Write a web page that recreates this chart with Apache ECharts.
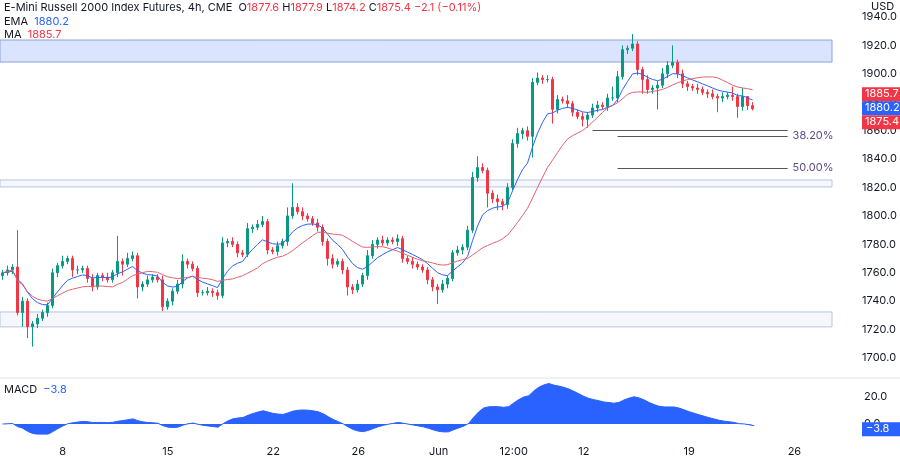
<!DOCTYPE html>
<html><head><meta charset="utf-8">
<script src="https://cdn.jsdelivr.net/npm/echarts@6/dist/echarts.min.js"></script>
<style>html,body{margin:0;padding:0;background:#fff}#c{width:900px;height:459px}</style>
</head><body><div id="c"></div>
<script>
const closes = [
1760,1762,1764,1732,1740,1722,1724,1728,1732,1737,
1760,1765,1768,1770,1762,1762,1763,1756,1750,1758,
1757,1755,1760,1768,1766,1770,1772,1750,1752,1755,
1757,1755,1736,1740,1747,1752,1768,1766,1763,1746,
1746,1747,1746,1744,1781,1782,1780,1774,1773,1791,
1792,1794,1796,1776,1775,1779,1782,1800,1806,1803,
1800,1798,1795,1792,1782,1770,1766,1768,1762,1750,
1748,1752,1758,1772,1780,1783,1781,1783,1782,1784,
1770,1768,1766,1764,1762,1755,1750,1748,1752,1756,
1774,1776,1778,1790,1827,1834,1832,1816,1812,1810,
1808,1820,1851,1858,1860,1856,1894,1897,1896,1896,
1875,1882,1881,1879,1873,1870,1868,1871,1876,1878,
1877,1883,1883,1898,1917,1918,1921,1903,1896,1889,
1890,1892,1900,1906,1908,1900,1893,1891,1890,1889,
1887,1886,1884,1883,1884,1885,1884,1877,1884,1877.6,
1875.4];
const firstOpen = 1758;
const upWick = [
2,3,2,26,3,2,2,3,2,2, 3,2,4,2,2,3,2,2,3,2, 2,3,2,18,2,4,3,2,2,3, 2,2,3,2,2,3,5,2,2,2,
2,3,2,2,4,2,3,2,2,4, 2,3,4,2,2,3,2,6,17,3, 3,2,2,3,2,2,3,2,2,2, 2,3,2,4,3,2,3,2,2,3,
2,2,3,2,2,2,2,2,3,2, 2,3,2,3,4,8,3,2,2,3, 2,3,3,4,2,3,3,4,2,3, 2,3,2,4,2,2,3,2,3,3,
2,3,8,4,3,2,7,2,2,3, 2,3,4,3,12,2,3,2,2,3, 2,2,3,2,3,2,6,2,6,0.3, 2.5];
const dnWick = [
3,2,3,2,10,8,14,3,2,3, 2,3,2,2,5,3,2,3,3,2, 3,2,2,3,8,2,2,8,3,2, 2,2,3,2,3,2,3,3,2,3,
2,2,3,3,2,3,2,3,2,2, 3,2,2,3,2,3,2,3,2,2, 3,2,2,3,3,5,3,2,3,6, 3,2,2,3,2,3,2,2,2,3,
3,2,3,2,2,3,3,10,2,3, 2,2,3,2,2,3,2,10,3,6, 4,3,2,3,4,3,15,2,3,2, 10,3,2,3,3,2,5,6,2,3,
2,3,2,3,2,3,2,4,10,3, 3,15,2,3,2,3,3,3,2,3, 2,3,2,10,3,2,3,8,3,3, 1.2];
const tickIdx = [12,33,54,71,87,102,116,137,158];
const tickLabels = ['8','15','22','26','Jun','12:00','12','19','26'];
const lastMA = 1885.7, lastEMA = 1880.2, lastMACD = -3.8;
const totalSlots = 166;
const zones = [[1908.3,1923.8,'rgba(187,205,255,0.55)','#8ea2d8'],[1820.4,1825.3,'rgba(230,236,250,0.4)','#b8c4e0'],[1721.9,1732.4,'rgba(230,236,250,0.4)','#b8c4e0']];
const fibLines = [[118,157,1860,''],[123,157,1856,'38.20%'],[123,157,1833.7,'50.00%']];

const cats = []; for (let i=0;i<totalSlots;i++) cats.push(String(i));
const ohlc = closes.map((c,i)=>{const o=i?closes[i-1]:firstOpen;return [o,c,Math.min(o,c)-dnWick[i],Math.max(o,c)+upWick[i]];});
function ema(arr,n){const k=2/(n+1);let e=arr[0];return arr.map(v=>(e=v*k+e*(1-k)));}
const ema9 = ema(closes,9).map(v=>+v.toFixed(2));
const ma20 = closes.map((v,i)=>{const s=closes.slice(Math.max(0,i-19),i+1);return +(s.reduce((a,b)=>a+b,0)/s.length).toFixed(2);});
const e12=ema(closes,12), e26=ema(closes,26);
const macd = closes.map((v,i)=>+(e12[i]-e26[i]).toFixed(2));

const chart = echarts.init(document.getElementById('c'));
const font = 'Inter, "Noto Sans", sans-serif';
chart.setOption({
  animation:false,
  textStyle:{fontFamily:font},
  grid:[{left:0,right:68,top:17,bottom:101},{left:0,right:68,top:380,bottom:25}],
  xAxis:[
    {type:'category',data:cats,gridIndex:0,boundaryGap:true,axisLine:{show:false},axisTick:{show:false},axisLabel:{show:false},splitLine:{show:false}},
    {type:'category',data:cats,gridIndex:1,boundaryGap:true,axisLine:{show:false},axisTick:{show:false},splitLine:{show:false},
     axisLabel:{interval:(i)=>tickIdx.includes(i),formatter:(v,i)=>{const k=tickIdx.indexOf(+v);return k>=0?tickLabels[k]:'';},color:'#131722',fontSize:11,margin:12}}
  ],
  yAxis:[
    {type:'value',gridIndex:0,position:'right',min:1700,max:1940,interval:20,splitLine:{show:false},axisLine:{show:false},axisTick:{show:false},
     axisLabel:{color:'#131722',fontSize:11,margin:32,formatter:v=>v.toFixed(1)}},
    {type:'value',gridIndex:1,position:'right',min:-7.4,max:32.6,splitLine:{show:false},axisLine:{show:false},axisTick:{show:false},
     axisLabel:{customValues:[0,20],color:'#131722',fontSize:11,margin:32,formatter:v=>v.toFixed(1)}}
  ],
  series:[
    {type:'candlestick',data:ohlc,barWidth:3,xAxisIndex:0,yAxisIndex:0,
     itemStyle:{color:'#089981',color0:'#f23645',borderColor:'#089981',borderColor0:'#f23645'},
     markArea:{silent:true,data:zones.map(z=>[{yAxis:z[0],x:0,itemStyle:{color:z[2],borderColor:z[3],borderWidth:1}},{yAxis:z[1],x:832}])},
     markLine:{silent:true,symbol:'none',label:{show:false},lineStyle:{color:'#555',type:'solid',width:1},
       data:fibLines.map(f=>[{coord:[String(f[0]),f[2]]},{coord:[String(f[1]),f[2]]}])}},
    {type:'line',data:ema9,symbol:'none',lineStyle:{color:'#2962ff',width:1},xAxisIndex:0,yAxisIndex:0},
    {type:'line',data:ma20,symbol:'none',lineStyle:{color:'#e0626e',width:1},xAxisIndex:0,yAxisIndex:0},
    {type:'line',data:macd,symbol:'none',lineStyle:{color:'#2962ff',width:1},areaStyle:{color:'#2962ff',opacity:1,origin:0},xAxisIndex:1,yAxisIndex:1}
  ]
});
const py = v=>chart.convertToPixel({yAxisIndex:0},v);
const px = i=>chart.convertToPixel({xAxisIndex:0},String(i));
const last = closes.length-1;
let tags = [[lastMA,'#f23645'],[lastEMA,'#2962ff'],[closes[last],'#f23645']].sort((a,b)=>b[0]-a[0]);
let prevY=-99; const g=[];
tags.forEach(t=>{let y=py(t[0]); if(y<prevY+14) y=prevY+14; prevY=y;
  g.push({type:'rect',z:100,shape:{x:862,y:y-7,width:38,height:14},style:{fill:t[1]}});
  g.push({type:'text',z:101,x:865,y:y-6,style:{text:t[0].toFixed(1),fill:'#fff',font:'11px '+font}});});
const my = chart.convertToPixel({yAxisIndex:1},lastMACD);
g.push({type:'rect',z:100,shape:{x:862,y:my-7,width:38,height:14},style:{fill:'#2962ff'}});
g.push({type:'text',z:101,x:866,y:my-6,style:{text:lastMACD.toFixed(1).replace('-','\u2212'),fill:'#fff',font:'11px '+font}});
fibLines.forEach(f=>{if(f[3]) g.push({type:'text',x:px(f[1])+5,y:py(f[2])-6,style:{text:f[3],fill:'#5e4b8b',font:'11px '+font}});});
g.push({type:'line',shape:{x1:0,y1:378,x2:900,y2:378},style:{stroke:'#e0e3eb',lineWidth:1}});
g.push({type:'text',x:871,y:1,style:{text:'USD',fill:'#131722',font:'11px '+font}});
g.push({type:'text',x:4,y:2,style:{text:'{t|E-Mini Russell 2000 Index Futures, 4h, CME  }{k|O}{v|1877.6 }{k|H}{v|1877.9 }{k|L}{v|1874.2 }{k|C}{v|1875.4 \u22122.1 (\u22120.11%)}',
  rich:{t:{fill:'#131722',font:'11px '+font},k:{fill:'#131722',font:'11px '+font},v:{fill:'#f23645',font:'11px '+font}}}});
g.push({type:'text',x:4,y:16,style:{text:'{t|EMA  }{v|1880.2}',rich:{t:{fill:'#131722',font:'11px '+font},v:{fill:'#2962ff',font:'11px '+font}}}});
g.push({type:'text',x:4,y:29,style:{text:'{t|MA  }{v|1885.7}',rich:{t:{fill:'#131722',font:'11px '+font},v:{fill:'#f23645',font:'11px '+font}}}});
g.push({type:'text',x:4,y:384,style:{text:'{t|MACD  }{v|\u22123.8}',rich:{t:{fill:'#131722',font:'11px '+font},v:{fill:'#2962ff',font:'11px '+font}}}});
chart.setOption({graphic:g});
</script></body></html>
